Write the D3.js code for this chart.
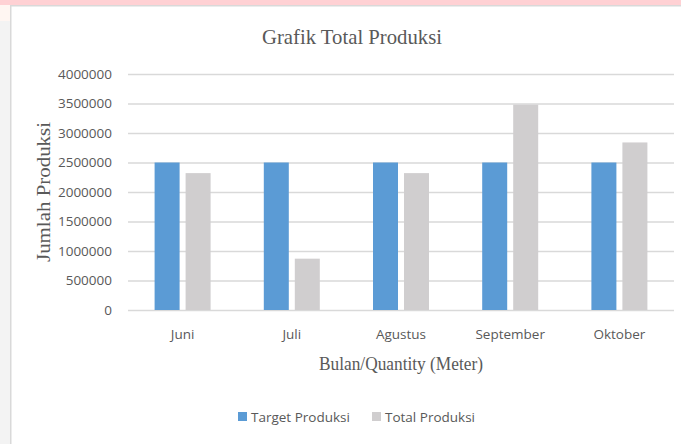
<!DOCTYPE html>
<html><head><meta charset="utf-8">
<script src="https://cdn.jsdelivr.net/npm/d3@7"></script>
<style>html,body{margin:0;padding:0;background:#fff;}svg{display:block;}</style>
</head><body>
<script>
const categories = ["Juni", "Juli", "Agustus", "September", "Oktober"];
const seriesNames = ["Target Produksi", "Total Produksi"];
const targetProduksi = [2500000, 2500000, 2500000, 2500000, 2500000];
const totalProduksi = [2320000, 870000, 2320000, 3480000, 2840000];
const yTicks = [0, 500000, 1000000, 1500000, 2000000, 2500000, 3000000, 3500000, 4000000];
const colors = ["#5b9bd5", "#d0cecf"];

(function () {
const W = 681, H = 444;
const svg = d3.select("body").append("svg").attr("width", W).attr("height", H);

// page background pieces
svg.append("rect").attr("x",0).attr("y",0).attr("width",W).attr("height",H).attr("fill","#fff");
svg.append("rect").attr("x",0).attr("y",0).attr("width",11).attr("height",H).attr("fill","#f3f3f3");
svg.append("rect").attr("x",0).attr("y",0).attr("width",W).attr("height",5).attr("fill","#ffd1d4");
svg.append("rect").attr("x",0).attr("y",5).attr("width",11).attr("height",16).attr("fill","#fff6f2");
svg.append("rect").attr("x",10).attr("y",5).attr("width",W-10).attr("height",1.5).attr("fill","#d9d9d9");
svg.append("rect").attr("x",10).attr("y",5).attr("width",1.5).attr("height",H-5).attr("fill","#d9d9d9");

const pl = 128, pr = 674, pt = 74, pb = 310;
const x = d3.scaleBand().domain(categories).range([pl, pr]).paddingInner(0).paddingOuter(0);
const y = d3.scaleLinear().domain([0, 4000000]).range([pb, pt]);

// gridlines
const grid = d3.axisLeft(y).tickValues(yTicks).tickSize(-(pr - pl)).tickFormat("");
const gg = svg.append("g").attr("transform", `translate(${pl},0)`).call(grid);
gg.select(".domain").remove();
gg.selectAll("line").attr("stroke", "#d9d9d9").attr("stroke-width", 1.5);

// y labels
const ya = d3.axisLeft(y).tickValues(yTicks).tickSize(0).tickPadding(16).tickFormat(d3.format("d"));
const yg = svg.append("g").attr("transform", `translate(${pl},0)`).call(ya);
yg.select(".domain").remove();
yg.selectAll("text").attr("font-family", "Open Sans, Noto Sans, sans-serif").attr("font-size", 13.5).attr("fill", "#595959");

// bars
const barW = 25, gap = 6;
const series = [targetProduksi, totalProduksi];
series.forEach((vals, si) => {
  svg.append("g").selectAll("rect").data(categories).join("rect")
    .attr("x", (d) => x(d) + x.bandwidth()/2 - barW - gap/2 + si*(barW + gap))
    .attr("y", (d, i) => y(vals[i]))
    .attr("width", barW)
    .attr("height", (d, i) => y(0) - y(vals[i]))
    .attr("fill", colors[si]);
});

// x labels
const xa = d3.axisBottom(x).tickSize(0).tickPadding(19);
const xg = svg.append("g").attr("transform", `translate(0,${pb})`).call(xa);
xg.select(".domain").remove();
xg.selectAll("text").attr("font-family", "Open Sans, Noto Sans, sans-serif").attr("font-size", 13.5).attr("fill", "#595959");

// titles
svg.append("text").attr("x", 352).attr("y", 44).attr("text-anchor", "middle")
  .attr("font-family", "Liberation Serif, serif").attr("font-size", 22).attr("fill", "#595959")
  .attr("textLength", 180).attr("lengthAdjust", "spacingAndGlyphs")
  .text("Grafik Total Produksi");
svg.append("text").attr("x", 401).attr("y", 370).attr("text-anchor", "middle")
  .attr("font-family", "Liberation Serif, serif").attr("font-size", 18).attr("fill", "#595959")
  .attr("textLength", 164).attr("lengthAdjust", "spacingAndGlyphs")
  .text("Bulan/Quantity (Meter)");
svg.append("text").attr("transform", "translate(50,192) rotate(-90)").attr("text-anchor", "middle")
  .attr("font-family", "Liberation Serif, serif").attr("font-size", 18).attr("fill", "#595959")
  .attr("textLength", 140).attr("lengthAdjust", "spacingAndGlyphs")
  .text("Jumlah Produksi");

// legend
const legX = [238, 372];
seriesNames.forEach((n, i) => {
  svg.append("rect").attr("x", legX[i]).attr("y", 412).attr("width", 9).attr("height", 9).attr("fill", colors[i]);
  svg.append("text").attr("x", legX[i] + 13).attr("y", 422)
    .attr("font-family", "Open Sans, Noto Sans, sans-serif").attr("font-size", 13.5).attr("fill", "#595959")
    .text(n);
});
})();
</script>
</body></html>
